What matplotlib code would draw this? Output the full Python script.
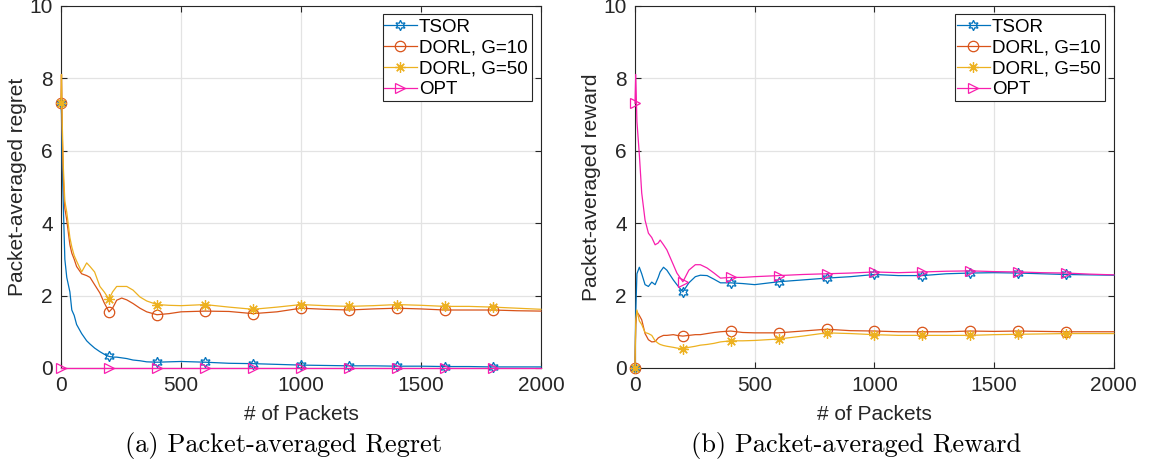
import numpy as np
import matplotlib
matplotlib.use("agg")
import matplotlib.pyplot as plt
from matplotlib.patches import Rectangle
from matplotlib.transforms import IdentityTransform

# series
LABELS = ["TSOR", "DORL, G=10", "DORL, G=50", "OPT"]
COLORS = ["#0072BD", "#D95319", "#EDB120", "#F81EAE"]
MARKERS = [(6, 1, 0), "o", (8, 2, 0), ">"]

REG_X = [0, 2, 5, 10, 16, 24, 37, 45, 55, 65, 86, 107, 121, 140, 162, 180, 200, 215, 232, 253, 274, 300, 329, 357,
         400, 450, 500, 600, 700, 800, 900, 1000, 1100, 1200, 1300, 1400, 1500, 1600, 1700, 1800, 1900, 2000]
REG_TSOR = [7.3, 7.0, 5.6, 4.4, 3.0, 2.5, 2.1, 1.6, 1.45, 1.2, 0.95, 0.75, 0.66, 0.55, 0.45, 0.38, 0.32, 0.3, 0.3,
            0.28, 0.26, 0.22, 0.2, 0.17, 0.16, 0.17, 0.18, 0.16, 0.13, 0.12, 0.1, 0.08, 0.07, 0.06, 0.06, 0.05, 0.05,
            0.04, 0.04, 0.03, 0.03, 0.03]
REG_G10 = [7.3, 8.1, 6.5, 5.2, 4.4, 4.08, 3.4, 3.17, 3.0, 2.8, 2.6, 2.55, 2.5, 2.3, 2.07, 1.8, 1.55, 1.65, 1.87, 1.93,
           1.88, 1.78, 1.65, 1.55, 1.47, 1.5, 1.55, 1.57, 1.56, 1.5, 1.55, 1.65, 1.62, 1.6, 1.63, 1.65, 1.63, 1.6,
           1.6, 1.6, 1.58, 1.57]
REG_G50 = [7.3, 8.1, 6.8, 5.5, 4.6, 4.3, 3.6, 3.34, 3.1, 2.95, 2.65, 2.9, 2.8, 2.65, 2.25, 2.1, 1.9, 2.1, 2.25, 2.25,
           2.25, 2.15, 1.96, 1.85, 1.75, 1.73, 1.72, 1.75, 1.68, 1.62, 1.68, 1.75, 1.72, 1.7, 1.72, 1.75, 1.73, 1.7,
           1.7, 1.68, 1.65, 1.62]
REG_OPT = [0.0] * len(REG_X)

REW_X = [0, 3, 8, 18, 28, 42, 56, 70, 84, 97, 105, 119, 133, 160, 175, 200, 225, 252, 273, 301, 330, 357,
         400, 450, 500, 600, 700, 800, 900, 1000, 1100, 1200, 1300, 1400, 1500, 1600, 1700, 1800, 1900, 2000]
REW_TSOR = [0.0, 1.5, 2.6, 2.78, 2.6, 2.3, 2.25, 2.37, 2.3, 2.5, 2.65, 2.78, 2.7, 2.43, 2.3, 2.1, 2.35, 2.52, 2.56,
            2.55, 2.45, 2.35, 2.35, 2.33, 2.3, 2.38, 2.43, 2.48, 2.52, 2.58, 2.55, 2.55, 2.6, 2.62, 2.63, 2.62, 2.6,
            2.58, 2.57, 2.56]
REW_G10 = [0.0, 1.2, 1.55, 1.45, 1.33, 0.95, 0.78, 0.72, 0.73, 0.83, 0.86, 0.9, 0.9, 0.92, 0.9, 0.88, 0.9, 0.92,
           0.92, 0.95, 0.98, 1.0, 1.02, 0.98, 0.97, 0.97, 1.02, 1.07, 1.03, 1.02, 1.0, 1.0, 1.0, 1.02, 1.01, 1.02,
           1.01, 1.0, 1.0, 1.0]
REW_G50 = [0.0, 1.3, 1.6, 1.3, 1.2, 0.98, 0.95, 0.9, 0.75, 0.68, 0.65, 0.62, 0.6, 0.57, 0.55, 0.53, 0.57, 0.6,
           0.63, 0.65, 0.68, 0.72, 0.75, 0.75, 0.76, 0.8, 0.88, 0.97, 0.95, 0.92, 0.9, 0.9, 0.9, 0.9, 0.92, 0.93,
           0.94, 0.95, 0.95, 0.95]
REW_OPT = [7.3, 8.1, 6.8, 5.9, 4.83, 4.08, 3.72, 3.6, 3.4, 3.45, 3.53, 3.4, 3.26, 2.85, 2.62, 2.38, 2.7, 2.85, 2.85,
           2.76, 2.62, 2.48, 2.5, 2.5, 2.52, 2.55, 2.58, 2.6, 2.62, 2.65, 2.63, 2.65, 2.67, 2.68, 2.66, 2.65, 2.63,
           2.62, 2.59, 2.57]

MARK_AT = [0, 200, 400, 600, 800, 1000, 1200, 1400, 1600, 1800]

plt.rcParams["font.family"] = ["Liberation Sans", "DejaVu Sans"]
AX_COLOR = "#262626"
FS = 15


def draw_panel(ax, xs, series, ylabel):
    idx = [xs.index(m) for m in MARK_AT]
    for ys, lab, col, mk in zip(series, LABELS, COLORS, MARKERS):
        ax.plot(xs, ys, color=col, lw=0.9, marker=mk, markevery=idx, markersize=7.5,
                markerfacecolor="none", markeredgecolor=col, markeredgewidth=0.9,
                label=lab, clip_on=False, zorder=3)
    ax.set_xlim(0, 2000)
    ax.set_ylim(0, 10)
    ax.set_xticks([0, 500, 1000, 1500, 2000])
    ax.set_yticks([0, 2, 4, 6, 8, 10])
    ax.grid(True, color="#e3e3e3", lw=0.9)
    ax.set_axisbelow(True)
    ax.tick_params(direction="in", top=True, right=True, labelsize=FS, colors=AX_COLOR,
                   length=4, pad=6)
    for sp in ax.spines.values():
        sp.set_color(AX_COLOR)
        sp.set_linewidth(0.8)
    ax.set_xlabel("# of Packets", fontsize=FS, color=AX_COLOR, labelpad=7)
    ax.set_ylabel(ylabel, fontsize=FS, color=AX_COLOR, labelpad=2)
    leg = ax.legend(loc="upper right", fontsize=13.5, handlelength=1.75, labelspacing=0.2,
                    borderpad=0.0, handletextpad=0.12, borderaxespad=0.7, frameon=False)
    leg.set_zorder(6)
    return leg


fig = plt.figure(figsize=(11.51, 4.67), dpi=100)
ax1 = fig.add_axes([0.053, 0.212, 0.417, 0.776])
ax2 = fig.add_axes([0.5517, 0.212, 0.416, 0.776])

leg1 = draw_panel(ax1, REG_X, [REG_TSOR, REG_G10, REG_G50, REG_OPT], "Packet-averaged regret")
leg2 = draw_panel(ax2, REW_X, [REW_TSOR, REW_G10, REW_G50, REW_OPT], "Packet-averaged reward")

# MATLAB-style legend box: tight on the left, a little room elsewhere
fig.canvas.draw()
for ax, leg in [(ax1, leg1), (ax2, leg2)]:
    bb = leg.get_window_extent()
    box = Rectangle((bb.x0 - 1.5, bb.y0 - 3), bb.width + 5.5, bb.height + 8,
                    transform=IdentityTransform(), facecolor="white", edgecolor=AX_COLOR,
                    lw=0.8, zorder=5, clip_on=False)
    ax.add_artist(box)

fig.text(0.2467, 0.047, "(a) Packet-averaged Regret", ha="center", va="center",
         fontsize=19, family="cmr10")
fig.text(0.7437, 0.047, "(b) Packet-averaged Reward", ha="center", va="center",
         fontsize=19, family="cmr10")

fig.savefig("out.png", dpi=100)
